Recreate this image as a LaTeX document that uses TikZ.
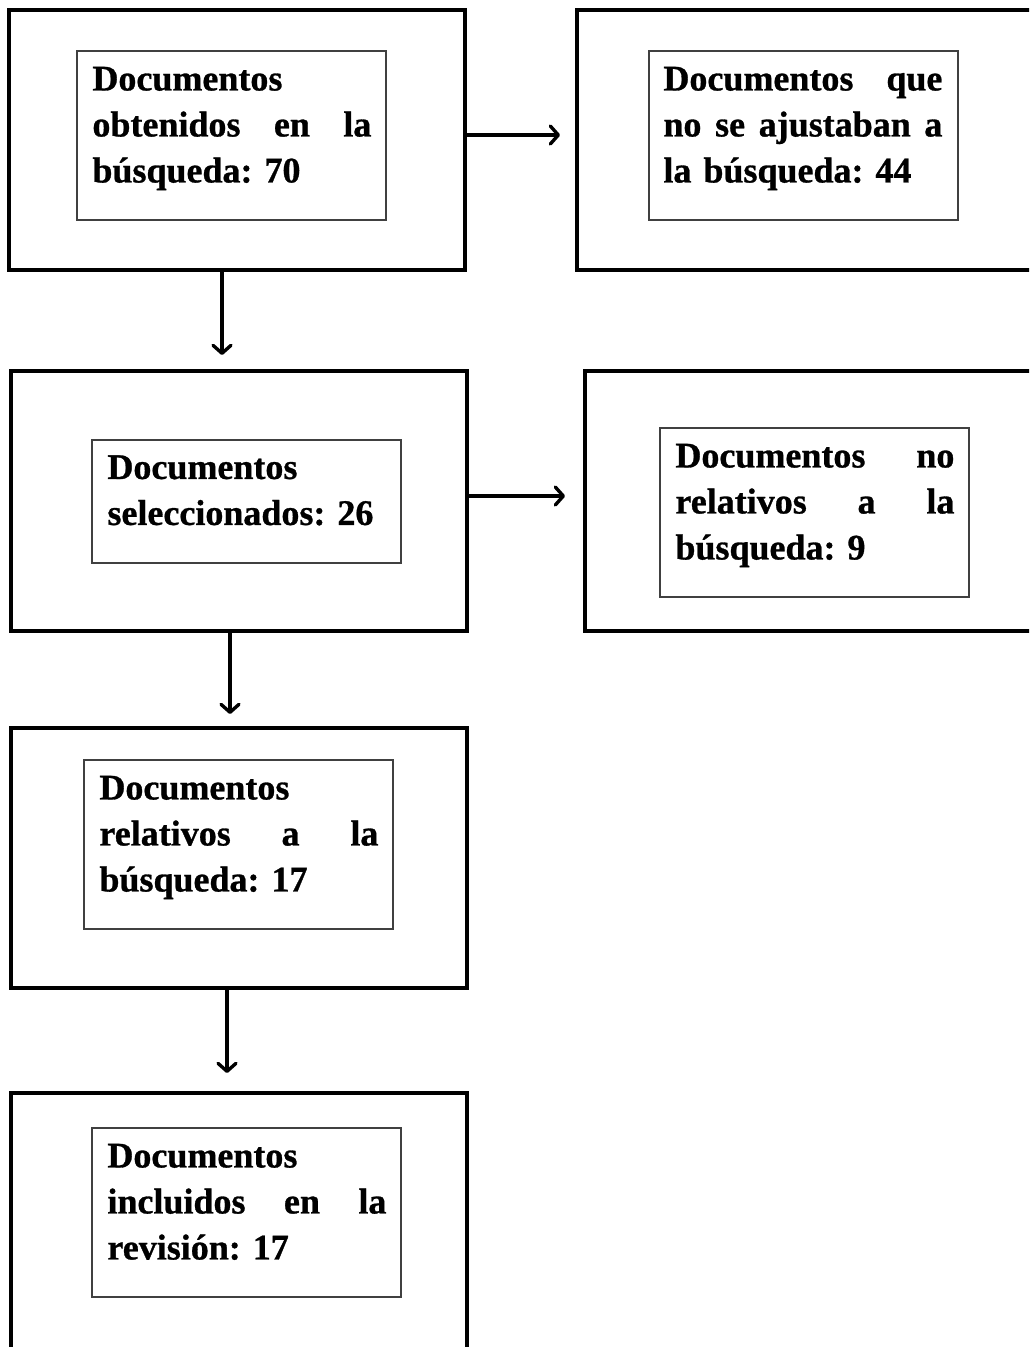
\documentclass[tikz,border=0pt]{standalone}
\usepackage{fontspec}
\setmainfont{Liberation Serif}
\newfontfamily\bxfont{Liberation Serif}[FakeBold=0.8]
\usetikzlibrary{arrows.meta,calc}
\frenchspacing
\newcommand\jl[1]{\leavevmode\hbox to 279pt{#1}}
\tikzset{
  outer/.style={draw=black, line width=3.2pt, inner sep=0pt, minimum height=260pt, minimum width=456pt},
  inner/.style={draw=black!75, line width=1.5pt, inner sep=0pt, minimum width=309pt, minimum height=169pt},
  txt/.style={anchor=north west, inner sep=0pt, text width=279pt, align=left,
    font=\bxfont\bfseries\fontsize{36}{46}\selectfont},
  arr/.style={line width=3.4pt, -{Straight Barb[length=8pt,width=18pt,line cap=round,line join=round]}},
}
\begin{document}
\begin{tikzpicture}[x=1pt,y=-1pt]
\useasboundingbox (0,0) rectangle (1029,1347);
\clip (0,0) rectangle (1029,1347);
% outer boxes
\node[outer] (o1) at (237,140) {};
\node[outer, minimum width=463pt] (o2) at (808.5,140) {};
\node[outer] (o3) at (239,501) {};
\node[outer, minimum width=455pt] (o4) at (812.5,501) {};
\node[outer] (o5) at (239,858) {};
\node[outer, minimum height=267pt] (o6) at (239,1226.5) {};
% inner boxes
\node[inner] (i1) at (231.5,135.5) {};
\node[inner] (i2) at (803.5,135.5) {};
\node[inner, minimum height=123pt] (i3) at (246.5,501.5) {};
\node[inner] (i4) at (814.5,512.5) {};
\node[inner] (i5) at (238.5,844.5) {};
\node[inner] (i6) at (246.5,1212.5) {};
% texts
\node[txt] (t1) at ($(i1.north west)+(16,10)$) {\rule{0pt}{30pt}Documentos\\\jl{obtenidos\hfill en\hfill la}\\búsqueda: 70};
\node[txt] (t2) at ($(i2.north west)+(15,10)$) {\rule{0pt}{30pt}\jl{Documentos\hfill que}\\\jl{no\hfill se\hfill ajustaban\hfill a}\\la búsqueda: 44};
\node[txt] (t3) at ($(i3.north west)+(16,9.5)$) {\rule{0pt}{30pt}Documentos\\seleccionados: 26};
\node[txt] (t4) at ($(i4.north west)+(16,10)$) {\rule{0pt}{30pt}\jl{Documentos\hfill no}\\\jl{relativos\hfill a\hfill la}\\búsqueda: 9};
\node[txt] (t5) at ($(i5.north west)+(16,10)$) {\rule{0pt}{30pt}Documentos\\\jl{relativos\hfill a\hfill la}\\búsqueda: 17};
\node[txt] (t6) at ($(i6.north west)+(16,10)$) {\rule{0pt}{30pt}Documentos\\\jl{incluidos\hfill en\hfill la}\\revisión: 17};
% arrow ends
\coordinate (e1) at (560,135);
\coordinate (e2) at (222,355);
\coordinate (e3) at (565,496);
\coordinate (e4) at (230,714);
\coordinate (e5) at (227,1073);
\draw[arr] (o1.east |- e1) -- (e1);
\draw[arr] (o1.south -| e2) -- (e2);
\draw[arr] (o3.east |- e3) -- (e3);
\draw[arr] (o3.south -| e4) -- (e4);
\draw[arr] (o5.south -| e5) -- (e5);
\end{tikzpicture}
\end{document}
